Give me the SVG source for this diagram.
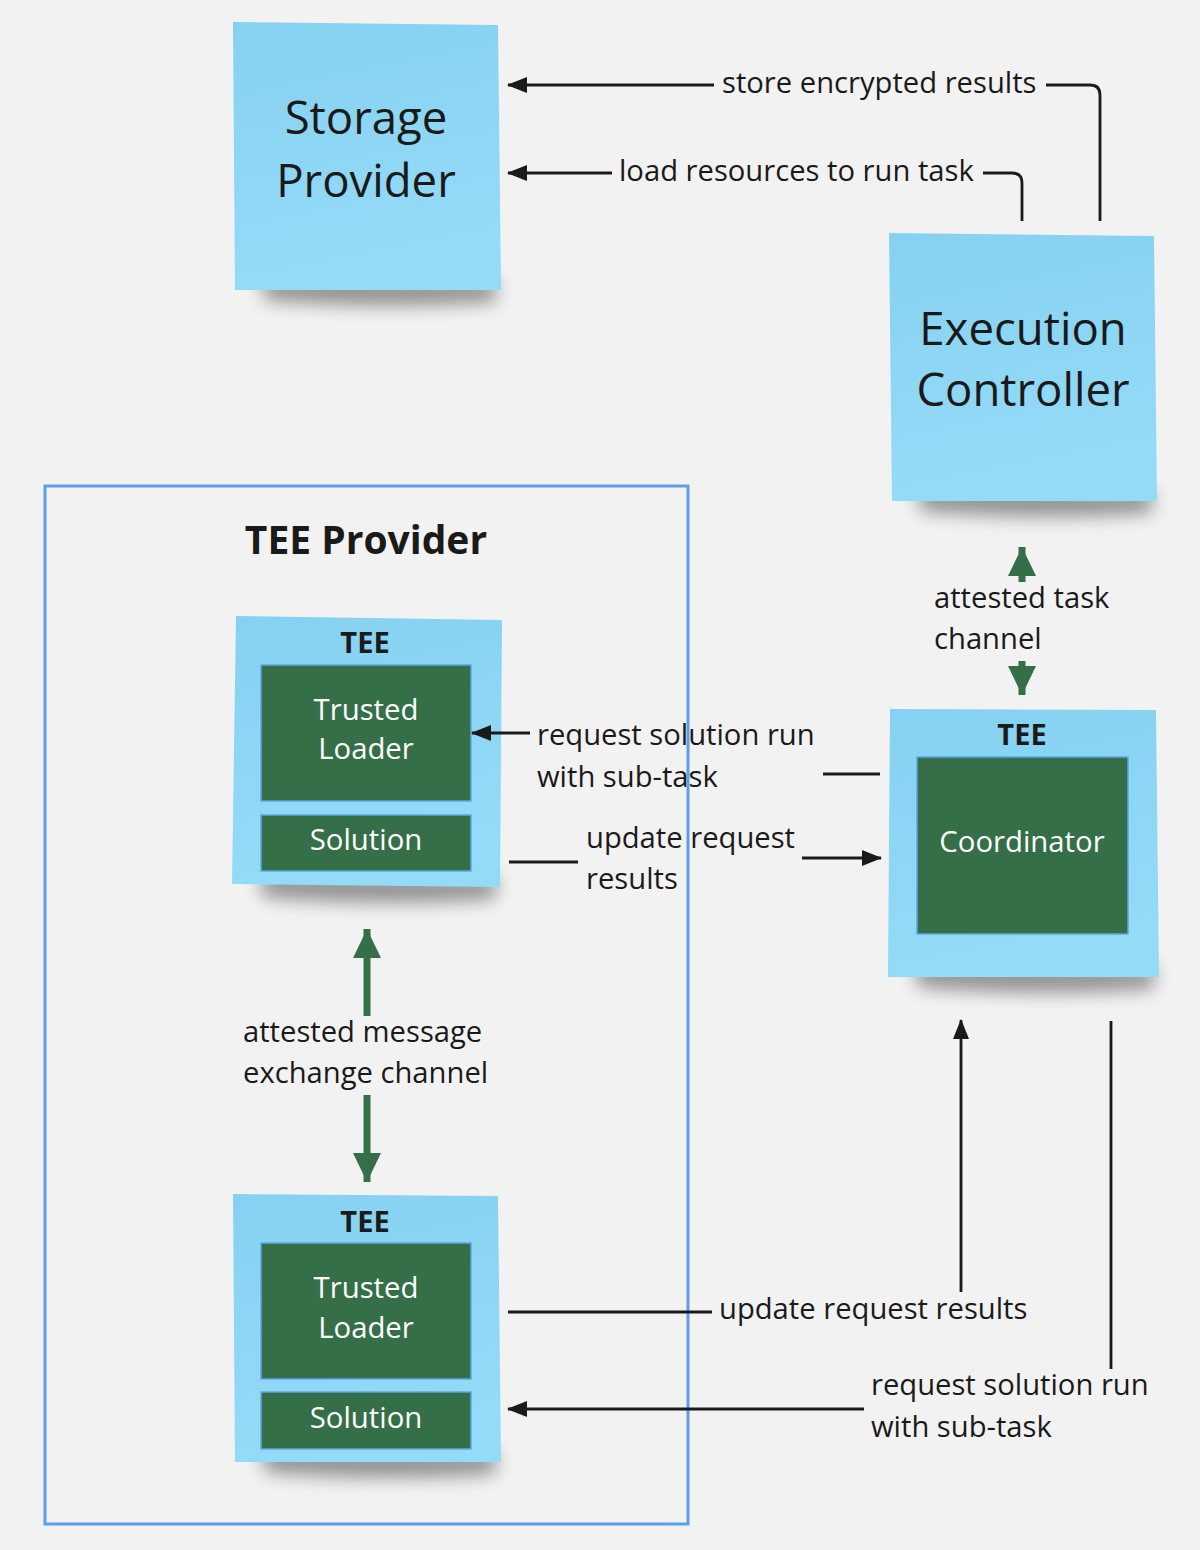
<svg xmlns="http://www.w3.org/2000/svg" width="1200" height="1550" viewBox="0 0 1200 1550">
<style>
  .bg { fill: #f2f2f2; }
  .sticky { fill: url(#stickyGrad); }
  .shadow { fill: #000; opacity: 0.4; filter: url(#blur); }
  .gbox { fill: #346f48; stroke: #5fa6e6; stroke-width: 1.5; }
  .big { font-family: "Open Sans", "Noto Sans", "Liberation Sans", sans-serif; font-size: 45.5px; fill: #1a1a1a; text-anchor: middle; }
  .title { font-family: "Open Sans", "Noto Sans", "Liberation Sans", sans-serif; font-weight: bold; font-size: 29px; fill: #1a1a1a; text-anchor: middle; }
  .frametitle { font-family: "Open Sans", "Noto Sans", "Liberation Sans", sans-serif; font-weight: bold; font-size: 39px; fill: #1a1a1a; text-anchor: middle; }
  .wtext { font-family: "Open Sans", "Noto Sans", "Liberation Sans", sans-serif; font-size: 29.3px; fill: #ffffff; text-anchor: middle; }
  .label { font-family: "Open Sans", "Noto Sans", "Liberation Sans", sans-serif; font-size: 29.2px; fill: #1a1a1a; }
  .conn { fill: none; stroke: #1a1a1a; stroke-width: 2.8; }
  .gconn { fill: none; stroke: #346f48; stroke-width: 7; }
  .frame { fill: none; stroke: #5a9fe8; stroke-width: 3; }
</style>
<defs>
  <linearGradient id="stickyGrad" x1="0" y1="0" x2="0.2" y2="1">
    <stop offset="0" stop-color="#86d1f1"/>
    <stop offset="1" stop-color="#94dbf7"/>
  </linearGradient>
  <filter id="blur" x="-20%" y="-150%" width="140%" height="400%">
    <feGaussianBlur stdDeviation="9"/>
  </filter>
  <marker id="ah" markerUnits="userSpaceOnUse" markerWidth="20" markerHeight="16" refX="19" refY="8" orient="auto">
    <path d="M0,0 L20,8 L0,16 z" fill="#1a1a1a"/>
  </marker>
  <marker id="gah" markerUnits="userSpaceOnUse" markerWidth="30" markerHeight="30" refX="29" refY="15" orient="auto">
    <path d="M0,1 L29,15 L0,29 z" fill="#346f48"/>
  </marker>
</defs>

<rect class="bg" x="0" y="0" width="1200" height="1550"/>

<g id="tee-provider-frame">
  <rect class="frame" x="45" y="486" width="643" height="1038"/>
  <text class="frametitle" x="366" y="554">TEE Provider</text>
</g>

<g id="storage-provider">
  <path class="shadow" d="M262,276 L497,280 L495,302 Q380,310 265,300 z"/>
  <polygon class="sticky" points="233,22 498,25 501,290 235,290"/>
  <text class="big" x="366" y="134">Storage</text>
  <text class="big" x="366" y="197">Provider</text>
</g>

<g id="execution-controller">
  <path class="shadow" d="M918,487 L1153,491 L1151,513 Q1036,521 921,511 z"/>
  <polygon class="sticky" points="889,233 1154,236 1157,501 892,501"/>
  <text class="big" x="1023" y="345">Execution</text>
  <text class="big" x="1023" y="406">Controller</text>
</g>

<g id="tee-top">
  <path class="shadow" d="M260,873 L497,877 L495,899 Q380,907 263,897 z"/>
  <polygon class="sticky" points="236,616 502,620 500,887 232,884"/>
  <text class="title" x="365" y="653">TEE</text>
  <rect class="gbox" x="261" y="665" width="210" height="136"/>
  <text class="wtext" x="366" y="720">Trusted</text>
  <text class="wtext" x="366" y="759">Loader</text>
  <rect class="gbox" x="261" y="815" width="210" height="56"/>
  <text class="wtext" x="366" y="850">Solution</text>
</g>

<g id="tee-coordinator">
  <path class="shadow" d="M915,963 L1155,967 L1153,989 Q1036,997 918,987 z"/>
  <polygon class="sticky" points="890,709 1156,710 1159,977 888,977"/>
  <text class="title" x="1022" y="745">TEE</text>
  <rect class="gbox" x="917" y="757" width="211" height="177"/>
  <text class="wtext" x="1022" y="852">Coordinator</text>
</g>

<g id="tee-bottom">
  <path class="shadow" d="M262,1448 L497,1452 L495,1474 Q380,1482 265,1472 z"/>
  <polygon class="sticky" points="233,1194 498,1196 501,1462 235,1462"/>
  <text class="title" x="365" y="1232">TEE</text>
  <rect class="gbox" x="261" y="1243" width="210" height="136"/>
  <text class="wtext" x="366" y="1298">Trusted</text>
  <text class="wtext" x="366" y="1338">Loader</text>
  <rect class="gbox" x="261" y="1392" width="210" height="57"/>
  <text class="wtext" x="366" y="1428">Solution</text>
</g>

<g id="connectors">
  <path class="conn" d="M1100,221 L1100,95 Q1100,85 1090,85 L1046,85"/>
  <line class="conn" x1="714" y1="85" x2="508" y2="85" marker-end="url(#ah)"/>
  <path class="conn" d="M1022,221 L1022,183 Q1022,173 1012,173 L983,173"/>
  <line class="conn" x1="612" y1="173" x2="508" y2="173" marker-end="url(#ah)"/>
  <line class="gconn" x1="1022" y1="582" x2="1022" y2="547" marker-end="url(#gah)"/>
  <line class="gconn" x1="1022" y1="661" x2="1022" y2="695" marker-end="url(#gah)"/>
  <line class="conn" x1="880" y1="774" x2="823" y2="774"/>
  <line class="conn" x1="530" y1="733" x2="472" y2="733" marker-end="url(#ah)"/>
  <line class="conn" x1="509" y1="862" x2="578" y2="862"/>
  <line class="conn" x1="802" y1="858" x2="881" y2="858" marker-end="url(#ah)"/>
  <line class="gconn" x1="367" y1="1016" x2="367" y2="929" marker-end="url(#gah)"/>
  <line class="gconn" x1="367" y1="1095" x2="367" y2="1182" marker-end="url(#gah)"/>
  <line class="conn" x1="508" y1="1312" x2="712" y2="1312"/>
  <line class="conn" x1="961" y1="1292" x2="961" y2="1020" marker-end="url(#ah)"/>
  <line class="conn" x1="1111" y1="1021" x2="1111" y2="1369"/>
  <line class="conn" x1="864" y1="1409" x2="508" y2="1409" marker-end="url(#ah)"/>
</g>

<g id="labels">
  <text class="label" x="722" y="93">store encrypted results</text>
  <text class="label" x="619" y="181">load resources to run task</text>
  <text class="label" x="934" y="608">attested task</text>
  <text class="label" x="934" y="649">channel</text>
  <text class="label" x="537" y="745">request solution run</text>
  <text class="label" x="537" y="787">with sub-task</text>
  <text class="label" x="586" y="848">update request</text>
  <text class="label" x="586" y="889">results</text>
  <text class="label" x="243" y="1042">attested message</text>
  <text class="label" x="243" y="1083">exchange channel</text>
  <text class="label" x="719" y="1319">update request results</text>
  <text class="label" x="871" y="1395">request solution run</text>
  <text class="label" x="871" y="1437">with sub-task</text>
</g>
</svg>
